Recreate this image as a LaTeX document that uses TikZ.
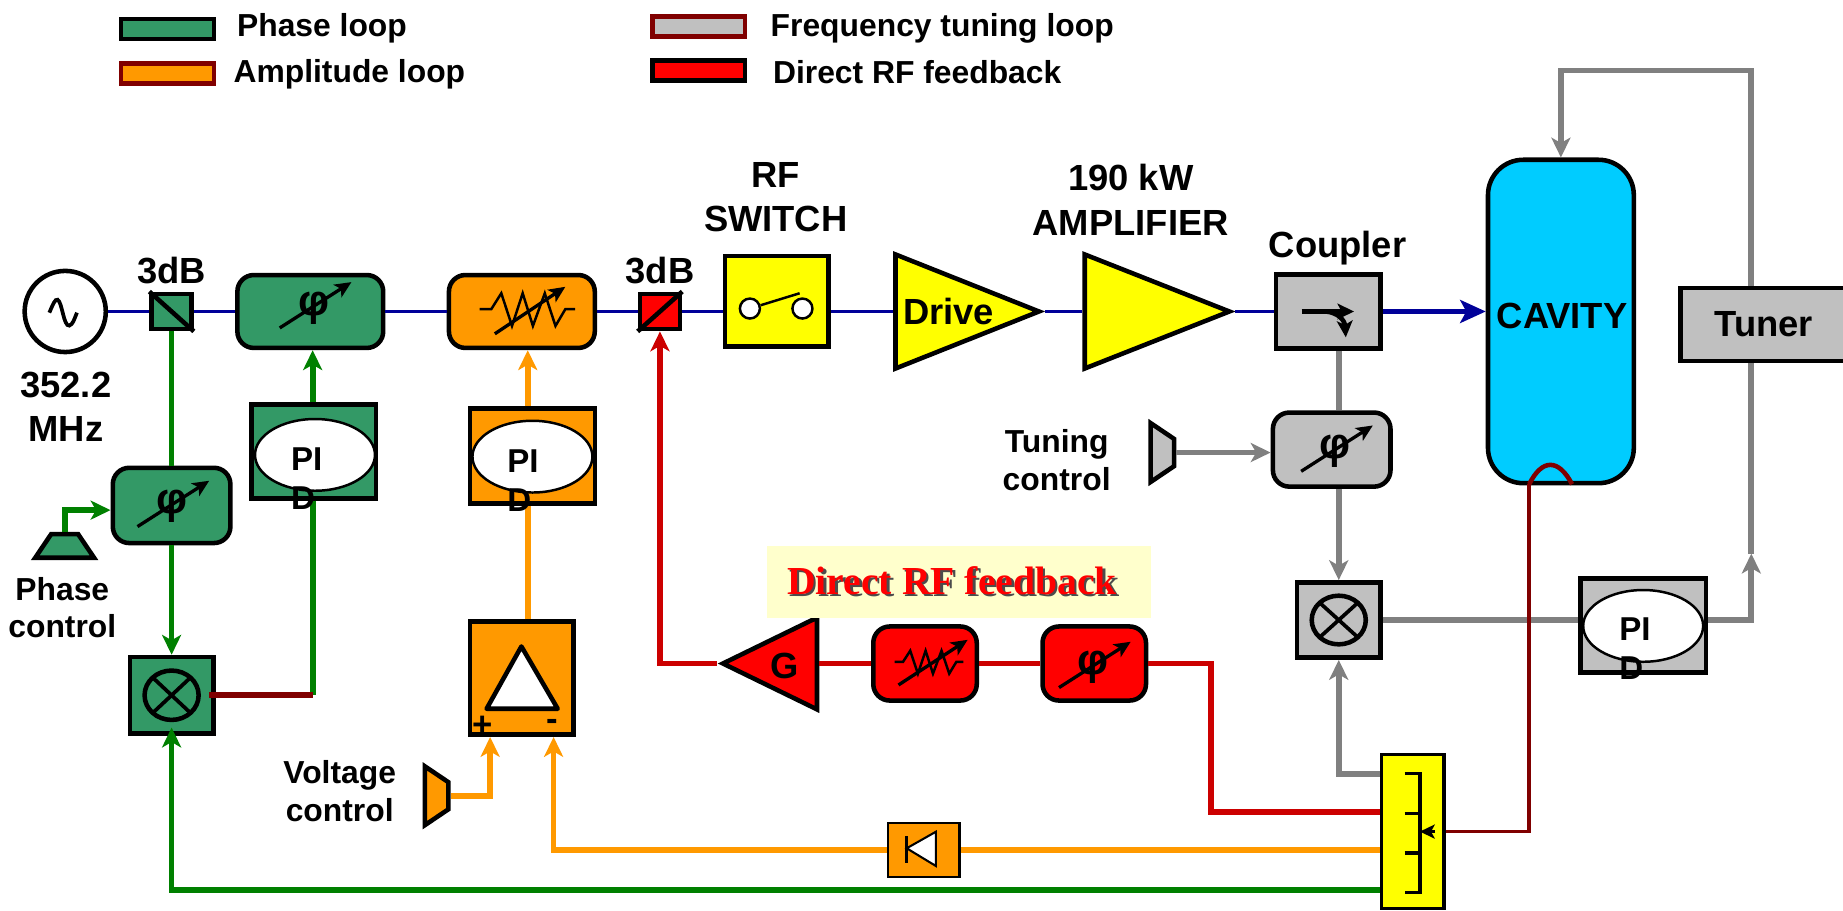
\documentclass[tikz,border=0pt]{standalone}
\usepackage{fontspec}
\setmainfont{Liberation Sans}
\newfontfamily\rfserif{Liberation Serif}
\usetikzlibrary{arrows.meta,shapes.geometric}
\definecolor{phasegreen}{HTML}{339966}
\definecolor{loopgreen}{HTML}{008000}
\definecolor{amporange}{HTML}{FF9900}
\definecolor{tunegray}{HTML}{C0C0C0}
\definecolor{wiregray}{HTML}{808080}
\definecolor{wirered}{HTML}{CC0000}
\definecolor{darkwire}{HTML}{800000}
\definecolor{rfblue}{HTML}{000099}
\definecolor{cavityblue}{HTML}{00CCFF}
\definecolor{notecream}{HTML}{FFFFCC}
\definecolor{rfyellow}{HTML}{FFFF00}
\definecolor{rfred}{HTML}{FF0000}
\tikzset{
  x=0.01cm, y=-0.01cm,
  >={Stealth[length=4.8pt,width=4.6pt,inset=1.3pt]},
  lab/.style={font=\fontsize{8.8}{10.7}\selectfont\bfseries, align=center, inner sep=0pt},
  ctrllab/.style={font=\fontsize{7.7}{9}\selectfont\bfseries, align=center, inner sep=0pt},
  leglab/.style={font=\fontsize{7.7}{9}\selectfont\bfseries, anchor=west, inner sep=0pt},
  pidtext/.style={font=\fontsize{8}{9.4}\selectfont\bfseries, align=left, inner sep=0pt},
  legbox/.style={draw, line width=1.1pt, minimum width=.79cm, minimum height=.17cm, inner sep=0pt},
  block/.style={draw, line width=1.1pt, inner sep=0pt},
  softblock/.style={block, rounded corners=.14cm},
  triblock/.style={block, isosceles triangle, isosceles triangle stretches, anchor=apex},
  ctrlblock/.style={block, trapezium, trapezium stretches, trapezium left angle=61, trapezium right angle=61, minimum width=.5cm, minimum height=.2cm},
  pidring/.style={draw, ellipse, fill=white, line width=.6pt, inner sep=0pt, minimum width=1.02cm, minimum height=.61cm},
  bluewire/.style={draw=rfblue, line width=.85pt},
  greenwire/.style={draw=loopgreen, line width=1.4pt},
  orangewire/.style={draw=amporange, line width=1.4pt},
  redwire/.style={draw=wirered, line width=1.4pt},
  graywire/.style={draw=wiregray, line width=1.4pt},
  brownwire/.style={draw=darkwire, line width=.9pt},
  pics/phasemark/.style={code={
    \node[font=\fontsize{10.5}{10.5}\selectfont\bfseries, inner sep=0pt] (-sym) at (0,0) {φ};
    \draw[->, line width=.8pt, >={Stealth[length=4pt,width=3.6pt,inset=1pt]}] (-29,17) -- (32,-22);
  }},
  pics/zigzag/.style={code={
    \draw[line width=.6pt] (-36,-2) -- (-26,-2) -- (-17.5,-15.5) -- (-8.4,12.3) -- (.7,-15.5) -- (9.4,12.3) -- (19.5,-15.5) -- (28.6,12.3) -- (37,-2) -- (45.4,-2);
  }},
  pics/zigarrow/.style={code={
    \draw[->, line width=.8pt, >={Stealth[length=4pt,width=3.6pt,inset=1pt]}] (-23,19) -- (37,-21);
  }},
}
\begin{document}
\begin{tikzpicture}
\path[use as bounding box, clip] (0,0) rectangle (1568,775);

\node[legbox, fill=phasegreen] (legphase) at (142.5,24.5) {};
\node[legbox, fill=amporange, draw=darkwire] (legamp) at (142.5,62.5) {};
\node[legbox, fill=tunegray, draw=darkwire] (legtune) at (594.5,22.5) {};
\node[legbox, fill=rfred] (legdirect) at (594.5,60) {};
\node[leglab] (legphaselab) at (201,24) {Phase loop};
\node[leglab] (legamplab) at (198,63) {Amplitude loop};
\node[leglab] (legtunelab) at (655,24) {Frequency tuning loop};
\node[leglab] (legdirectlab) at (657,61) {Direct RF feedback};

\node[block, circle, fill=white, minimum size=.69cm] (source) at (55.5,265) {};
\node[block, fill=phasegreen, minimum width=.34cm, minimum height=.30cm] (splitA) at (146,265) {};
\node[softblock, fill=phasegreen, minimum width=1.24cm, minimum height=.62cm] (phaseA) at (264,265) {};
\node[softblock, fill=amporange, minimum width=1.24cm, minimum height=.62cm] (attenA) at (444,265) {};
\node[block, fill=rfred, minimum width=.34cm, minimum height=.30cm] (splitB) at (561.5,265) {};
\node[block, fill=rfyellow, minimum width=.88cm, minimum height=.77cm] (rfswitch) at (661,256.5) {};
\node[triblock, fill=rfyellow, minimum height=1.22cm, minimum width=.97cm] (drive) at (889,265) {};
\node[triblock, fill=rfyellow, minimum height=1.23cm, minimum width=.97cm] (amplifier) at (1051,265) {};
\node[block, fill=tunegray, minimum width=.89cm, minimum height=.63cm] (coupler) at (1130,265) {};
\node[block, fill=cavityblue, rounded corners=.3cm, minimum width=1.24cm, minimum height=2.75cm] (cavity) at (1328,273.5) {};
\node[block, fill=tunegray, minimum width=1.41cm, minimum height=.62cm, font=\fontsize{8.8}{10.5}\selectfont\bfseries] (tuner) at (1500.5,276) {Tuner};

\node[softblock, fill=phasegreen, minimum width=1cm, minimum height=.64cm] (phaseB) at (146,430) {};
\node[ctrlblock, fill=phasegreen] (ctrlA) at (55,464.5) {\phantom{x}};
\node[block, fill=phasegreen, minimum width=.71cm, minimum height=.65cm] (mixA) at (146,591.5) {};
\node[block, fill=phasegreen, minimum width=1.06cm, minimum height=.80cm] (pidA) at (267,384) {};
\node[pidring] (ringA) at (268,387) {};
\node[block, fill=amporange, minimum width=1.06cm, minimum height=.81cm] (pidB) at (453,388) {};
\node[pidring] (ringB) at (453,388.5) {};
\node[block, fill=amporange, minimum width=.88cm, minimum height=.96cm] (ampbox) at (444,577) {};
\node[ctrlblock, fill=amporange, rotate=-90] (ctrlV) at (371.5,677) {\phantom{x}};
\node[block, fill=amporange, line width=.6pt, minimum width=.61cm, minimum height=.46cm] (detector) at (785.8,723) {};

\node[softblock, fill=tunegray, minimum width=1cm, minimum height=.63cm] (phaseT) at (1133,382.5) {};
\node[ctrlblock, fill=tunegray, rotate=-90] (ctrlT) at (989,385) {\phantom{x}};
\node[block, fill=tunegray, minimum width=.71cm, minimum height=.64cm] (mixT) at (1139,527.5) {};
\node[block, fill=tunegray, minimum width=1.07cm, minimum height=.80cm] (pidT) at (1398,532) {};
\node[pidring] (ringT) at (1398,532.5) {};

\node[softblock, fill=rfred, minimum width=.88cm, minimum height=.63cm] (phaseR) at (931,564.5) {};
\node[softblock, fill=rfred, minimum width=.88cm, minimum height=.63cm] (attenR) at (787,564.5) {};
\node[triblock, fill=rfred, shape border rotate=180, minimum height=.80cm, minimum width=.78cm] (gain) at (610,564.5) {};
\node[block, fill=rfyellow, line width=.8pt, minimum width=.53cm, minimum height=1.31cm] (splitter) at (1202,707.5) {};

\coordinate (wireA) at (266,384);
\coordinate (wireB) at (449,388);
\coordinate (mixAout) at (178,591.5);
\coordinate (mixAin) at (146,619);
\coordinate (ctrlAin) at (94,434);
\coordinate (plusin) at (417,627);
\coordinate (minusin) at (471,627);
\coordinate (tapG) at (1174,757);
\coordinate (tapO) at (1174,723);
\coordinate (tapR) at (1174,691);
\coordinate (tapS) at (1174,658.6);
\coordinate (redcorner) at (1030,564.5);
\coordinate (capin) at (1301,412);
\coordinate (capend) at (1337.5,412);
\coordinate (looptop) at (1328,60);
\coordinate (tunetap) at (1490,300);
\coordinate (tunemid) at (1490,471);

\draw[bluewire] (source) -- (splitA);
\draw[bluewire] (splitA) -- (phaseA);
\draw[bluewire] (phaseA) -- (attenA);
\draw[bluewire] (attenA) -- (splitB);
\draw[bluewire] (splitB) -- (rfswitch.west |- splitB);
\draw[bluewire] (rfswitch.east |- splitB) -- (drive.lower side);
\draw[bluewire] (drive.apex) -- (amplifier.lower side);
\draw[bluewire] (amplifier.apex) -- (coupler.west);
\draw[bluewire, ->, line width=1pt, >={Stealth[length=6.2pt,width=5.6pt,inset=1.5pt]}] (coupler.east) -- (cavity.west |- coupler.east);

\draw[greenwire] (splitA.south) -- (phaseB.north);
\draw[greenwire, ->] (phaseB.south) -- (mixA.north);
\draw[greenwire, ->] (ctrlA.north) |- (ctrlAin);
\draw[greenwire, ->] (tapG) -| (mixAin);
\draw[greenwire, ->] (wireA |- pidA.north) -- (wireA |- phaseA.south);
\draw[greenwire] (wireA |- pidA.south) -- (wireA |- mixAout);
\draw[draw=darkwire, line width=1.5pt] (mixAout) -- (wireA |- mixAout);

\draw[orangewire, ->] (wireB |- pidB.north) -- (wireB |- attenA.south);
\draw[orangewire] (wireB |- ampbox.north) -- (wireB |- pidB.south);
\draw[orangewire, ->] (ctrlV.north) -| (plusin);
\draw[orangewire] (tapO) -- (detector.east);
\draw[orangewire, ->] (detector.west) -| (minusin);

\draw[redwire] (tapR) -| (redcorner) -- (phaseR.east);
\draw[redwire] (phaseR.west) -- (attenR.east);
\draw[redwire] (attenR.west) -- (gain.lower side);
\draw[redwire, ->] (gain.apex) -| (splitB.south);

\draw[graywire] (mixT |- coupler.south) -- (mixT |- phaseT.north);
\draw[graywire, ->] (mixT |- phaseT.south) -- (mixT.north);
\draw[graywire, ->] (ctrlT.north) -- (phaseT.west |- ctrlT.north);
\draw[graywire] (mixT.east) -- (pidT.west |- mixT.east);
\draw[graywire, ->] (tapS) -| (mixT.south);
\draw[graywire, ->] (pidT.east |- mixT.east) -| (tunemid);
\draw[graywire] (tunemid) -- (tunetap |- tuner.south);
\draw[graywire, ->] (tunetap |- tuner.north) |- (looptop) -- (cavity.north);

\draw[brownwire] (splitter.east) -| (capin);
\draw[draw=darkwire, line width=1.1pt] (capin) .. controls (1312,390) and (1326,390) .. (capend);

\draw[block] (splitA.north west) -- (splitA.south east);
\draw[block] (splitB.south west) -- (splitB.north east);
\draw[line width=.9pt] (42,266) .. controls (45,259) and (47,254) .. (49,255) .. controls (53,257) and (54,278) .. (59,277) .. controls (62,276) and (63,272) .. (65.5,266);

\pic at (267,262) {phasemark};
\pic at (146,431) {phasemark};
\pic at (1136,384) {phasemark};
\pic at (930,568) {phasemark};
\pic at (444,265) {zigzag};
\pic at (444,265) {zigarrow};
\pic[xscale=.72, yscale=.7] at (787,564.5) {zigzag};
\pic[xscale=.98, yscale=.96] at (787,564.5) {zigarrow};

\node[block, circle, fill=white, line width=.6pt, minimum size=.17cm] (contactA) at (638,262.5) {};
\node[block, circle, fill=white, line width=.6pt, minimum size=.17cm] (contactB) at (682.7,262.5) {};
\draw[line width=.6pt] (contactA) -- (680.3,249.5);

\draw[line width=1.4pt] (1107.4,265) -- (1128,265);
\draw[->, line width=1.2pt, >={Stealth[length=4pt,width=3.8pt,inset=1pt]}] (1128,265) -- (1152,265);
\draw[->, line width=1.1pt, >={Stealth[length=4pt,width=3.8pt,inset=1pt]}] (1128,265) .. controls (1138,266) and (1144,272) .. (1145,287);

\draw[block] (mixA) ellipse (23 and 21);
\draw[line width=.9pt] (130,576.5) -- (162,606.5) (162,576.5) -- (130,606.5);
\draw[block] (mixT) ellipse (23 and 20.7);
\draw[line width=.9pt] (1123,513) -- (1155,542) (1155,513) -- (1123,542);

\draw[block, fill=white, line join=round] (443.6,550) -- (474.5,603) -- (414,603) -- cycle;
\node[lab, font=\fontsize{8.4}{9}\selectfont\bfseries] (plusmark) at (411,618) {+};
\node[lab, font=\fontsize{8.4}{9}\selectfont\bfseries] (minusmark) at (469.5,617) {-};

\draw[line width=.5pt, fill=white] (771.4,721.7) -- (796.3,707.6) -- (796.3,736.8) -- cycle;
\draw[line width=.8pt] (771.4,711.3) -- (771.4,734.3);

\draw[line width=.8pt] (1195,657.8) -- (1208,657.8) -- (1208,759.5) -- (1195,759.5);
\draw[line width=.8pt] (1195,692) -- (1208,692);
\draw[line width=.8pt] (1195,725.6) -- (1208,725.6);
\draw[->, line width=.7pt, >={Stealth[length=3.6pt,width=3.4pt,inset=.9pt]}] (1221,707.5) -- (1208,707.5);

\node[pidtext] (pidAtext) at (261,407.5) {PI\\D};
\node[pidtext] (pidBtext) at (445,409) {PI\\D};
\node[pidtext] (pidTtext) at (1391,552) {PI\\D};

\node[lab, above of = splitA, node distance = .35cm] (splitAlab) {3dB};
\node[lab, above of = splitB, node distance = .35cm] (splitBlab) {3dB};
\node[lab] (freqlab) at (56,346) {352.2\\MHz};
\node[lab] (rfswitchlab) at (660,168) {RF\\SWITCH};
\node[lab] (amplab) at (962,170) {190 kW\\AMPLIFIER};
\node[lab] (couplerlab) at (1138,211) {Coupler};
\node[lab] (drivelab) at (807,265) {Drive};
\node[lab] (cavitylab) at (1329,269) {CAVITY};
\node[lab] (gainlab) at (667.5,566.5) {G};
\node[ctrllab] (ctrlAlab) at (53,517) {Phase\\control};
\node[ctrllab] (ctrlTlab) at (899,391.5) {Tuning\\control};
\node[ctrllab] (ctrlVlab) at (289,673) {Voltage\\control};

\node[fill=notecream, inner sep=0pt, minimum width=3.27cm, minimum height=.61cm] (noteback) at (816,495) {};
\node[font=\rfserif\fontsize{9.6}{11}\selectfont\bfseries, text=black!70, inner sep=0pt] (noteshadow) at (812,496) {Direct RF feedback};
\node[font=\rfserif\fontsize{9.6}{11}\selectfont\bfseries, text=rfred, inner sep=0pt] (notelab) at (810,494) {Direct RF feedback};
\end{tikzpicture}
\end{document}
